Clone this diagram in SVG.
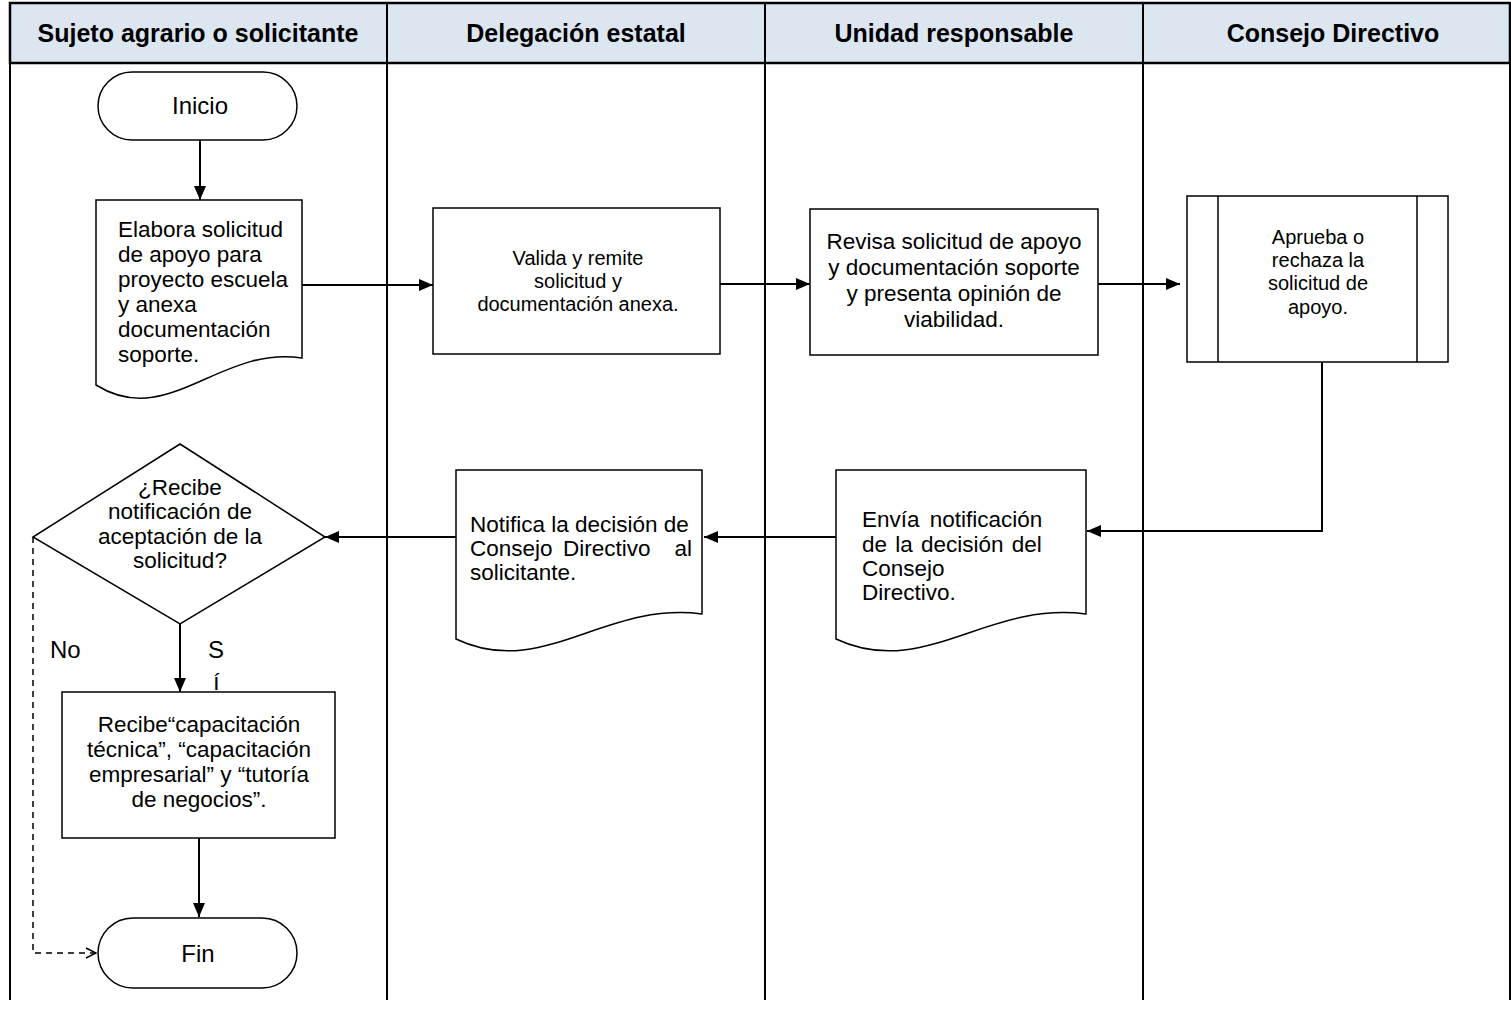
<svg xmlns="http://www.w3.org/2000/svg" width="1511" height="1011" viewBox="0 0 1511 1011">
<defs>
<style>
.frame{fill:none;stroke:#000;stroke-width:2}
.hdr{fill:#dce6f1;stroke:#000;stroke-width:2.5}
.ht{font-family:"Liberation Sans",Arial,sans-serif;font-weight:bold;font-size:25px;text-anchor:middle;fill:#000}
.shape{fill:#fff;stroke:#000;stroke-width:1.5}
.t{font-family:"Liberation Sans",Arial,sans-serif;font-size:22.5px;fill:#000}
.tb{font-family:"Liberation Sans",Arial,sans-serif;font-size:24px;fill:#000}
.ts{font-family:"Liberation Sans",Arial,sans-serif;font-size:20px;fill:#000}
.c{text-anchor:middle}
.e{text-anchor:end}
.edge{fill:none;stroke:#000;stroke-width:2}
.dash{fill:none;stroke:#000;stroke-width:1.5;stroke-dasharray:6 5}
</style>
<marker id="arr" viewBox="0 0 14 12" refX="14" refY="6" markerWidth="14" markerHeight="12" markerUnits="userSpaceOnUse" orient="auto">
<path d="M0,0 L14,6 L0,12 Z" fill="#000"/>
</marker>
<marker id="open" viewBox="0 0 12 12" refX="11" refY="6" markerWidth="12" markerHeight="12" markerUnits="userSpaceOnUse" orient="auto">
<path d="M1,1 L11,6 L1,11" fill="none" stroke="#000" stroke-width="1.5"/>
</marker>
</defs>
<rect width="1511" height="1011" fill="#fff"/>
<g id="lanes">
<rect class="hdr" x="10" y="3" width="1500" height="60"/>
<line class="frame" x1="10" y1="3" x2="10" y2="1000"/>
<line class="frame" x1="387" y1="3" x2="387" y2="1000"/>
<line class="frame" x1="765" y1="3" x2="765" y2="1000"/>
<line class="frame" x1="1143" y1="3" x2="1143" y2="1000"/>
<line class="frame" x1="1510" y1="3" x2="1510" y2="1000"/>
<text class="ht" x="198" y="42">Sujeto agrario o solicitante</text>
<text class="ht" x="576" y="42">Delegación estatal</text>
<text class="ht" x="954" y="42">Unidad responsable</text>
<text class="ht" x="1333" y="42">Consejo Directivo</text>
</g>
<g id="connectors">
<line class="edge" x1="200" y1="140" x2="200" y2="200" marker-end="url(#arr)"/>
<line class="edge" x1="302" y1="285" x2="433" y2="285" marker-end="url(#arr)"/>
<line class="edge" x1="720" y1="284" x2="810" y2="284" marker-end="url(#arr)"/>
<line class="edge" x1="1098" y1="284" x2="1180" y2="284" marker-end="url(#arr)"/>
<polyline class="edge" points="1322,362 1322,531 1087,531" marker-end="url(#arr)"/>
<line class="edge" x1="836" y1="537" x2="704" y2="537" marker-end="url(#arr)"/>
<line class="edge" x1="456" y1="537" x2="325" y2="537" marker-end="url(#arr)"/>
<line class="edge" x1="180" y1="624" x2="180" y2="692" marker-end="url(#arr)"/>
<line class="edge" x1="199" y1="838" x2="199" y2="917" marker-end="url(#arr)"/>
<polyline class="dash" points="33,537 33,953 96,953" marker-end="url(#open)"/>
<text class="tb" x="50" y="658">No</text>
<text class="tb" x="208" y="658">S</text>
<text class="tb" x="213" y="690">í</text>
</g>
<g id="inicio">
<rect class="shape" x="98" y="72" width="199" height="68" rx="34" ry="34"/>
<text class="tb c" x="200" y="114">Inicio</text>
</g>
<g id="elabora">
<path class="shape" d="M96,200 H302 V358 C220,345 168,430 96,385 Z"/>
<text class="t" x="118" y="237">Elabora solicitud</text>
<text class="t" x="118" y="262">de apoyo para</text>
<text class="t" x="118" y="287">proyecto escuela</text>
<text class="t" x="118" y="312">y anexa</text>
<text class="t" x="118" y="337">documentación</text>
<text class="t" x="118" y="362">soporte.</text>
</g>
<g id="valida">
<rect class="shape" x="433" y="208" width="287" height="146"/>
<text class="ts c" x="578" y="265">Valida y remite</text>
<text class="ts c" x="578" y="288">solicitud y</text>
<text class="ts c" x="578" y="311">documentación anexa.</text>
</g>
<g id="revisa">
<rect class="shape" x="810" y="209" width="288" height="146"/>
<text class="t c" x="954" y="249">Revisa solicitud de apoyo</text>
<text class="t c" x="954" y="275">y documentación soporte</text>
<text class="t c" x="954" y="301">y presenta opinión de</text>
<text class="t c" x="954" y="327">viabilidad.</text>
</g>
<g id="aprueba">
<rect class="shape" x="1187" y="196" width="261" height="166"/>
<line class="shape" x1="1218" y1="196" x2="1218" y2="362"/>
<line class="shape" x1="1417" y1="196" x2="1417" y2="362"/>
<text class="ts c" x="1318" y="244">Aprueba o</text>
<text class="ts c" x="1318" y="267">rechaza la</text>
<text class="ts c" x="1318" y="290">solicitud de</text>
<text class="ts c" x="1318" y="314">apoyo.</text>
</g>
<g id="envia">
<path class="shape" d="M836,470 H1086 V614 C986,601 924,680 836,639 Z"/>
<text class="t" x="862" y="527" word-spacing="4">Envía notificación</text>
<text class="t" x="862" y="552" word-spacing="2">de la decisión del</text>
<text class="t" x="862" y="576">Consejo</text>
<text class="t" x="862" y="600">Directivo.</text>
</g>
<g id="notifica">
<path class="shape" d="M456,470 H702 V614 C604,601 542,680 456,639 Z"/>
<text class="t" x="470" y="532">Notifica la decisión de</text>
<text class="t" x="470" y="556">Consejo</text>
<text class="t" x="563" y="556">Directivo</text>
<text class="t e" x="692" y="556">al</text>
<text class="t" x="470" y="580">solicitante.</text>
</g>
<g id="decision">
<polygon class="shape" points="180,444 325,537 180,624 33,537"/>
<text class="t c" x="180" y="495">¿Recibe</text>
<text class="t c" x="180" y="519">notificación de</text>
<text class="t c" x="180" y="544">aceptación de la</text>
<text class="t c" x="180" y="568">solicitud?</text>
</g>
<g id="recibe">
<rect class="shape" x="62" y="692" width="273" height="146"/>
<text class="t c" x="199" y="732">Recibe“capacitación</text>
<text class="t c" x="199" y="757">técnica”, “capacitación</text>
<text class="t c" x="199" y="782">empresarial” y “tutoría</text>
<text class="t c" x="199" y="807">de negocios”.</text>
</g>
<g id="fin">
<rect class="shape" x="98" y="918" width="199" height="70" rx="35" ry="35"/>
<text class="tb c" x="198" y="962">Fin</text>
</g>
</svg>
